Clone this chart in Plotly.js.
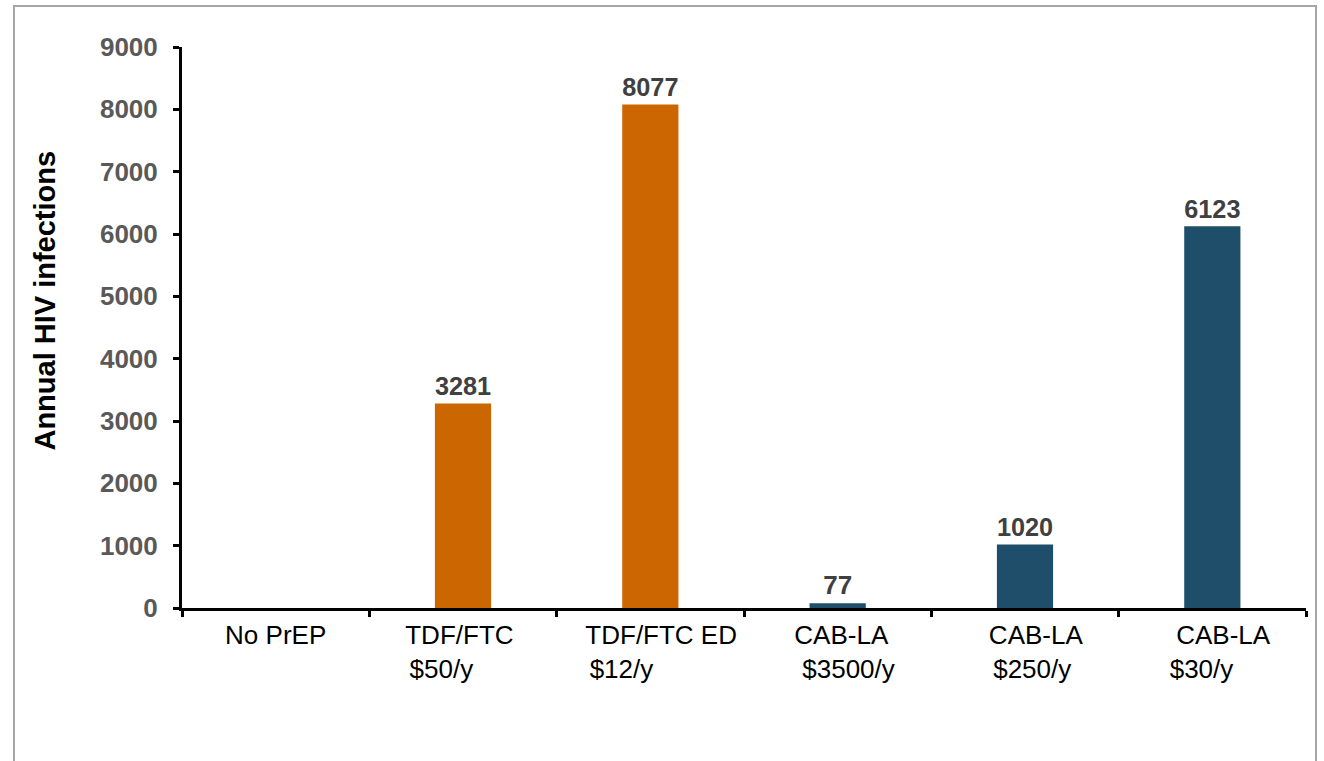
<!DOCTYPE html>
<html>
<head>
<meta charset="utf-8">
<script src="https://cdn.plot.ly/plotly-3.0.1.min.js"></script>
<style>
  html, body { margin: 0; padding: 0; background: #fff; }
  #chart { position: absolute; left: 0; top: 0; width: 1324px; height: 761px; }
  #frame { position: absolute; left: 13px; top: 5px; width: 1300px; height: 800px;
           border: 2px solid #a6a6a6; pointer-events: none; }
</style>
</head>
<body>
<div id="chart"></div>
<div id="frame"></div>
<script>
// ---- data ----
const categories = ['No PrEP', 'TDF/FTC $50/y', 'TDF/FTC ED $12/y', 'CAB-LA $3500/y', 'CAB-LA $250/y', 'CAB-LA $30/y'];
const labelLine1 = ['No PrEP', 'TDF/FTC', 'TDF/FTC ED', 'CAB-LA', 'CAB-LA', 'CAB-LA'];
const labelLine2 = ['', '$50/y', '$12/y', '$3500/y', '$250/y', '$30/y'];
const infections = [null, 3281, 8077, 77, 1020, 6123];
const yTickValues = [0, 1000, 2000, 3000, 4000, 5000, 6000, 7000, 8000, 9000];

// ---- style ----
const ORANGE = '#CC6600';
const BLUE = '#1F4E6B';
// label nudges (in non-breaking spaces; positive = lead, negative = trail)
const nudge1 = [0, -1, 3, 1, 3, 3];
const nudge2 = [0, -6, -8, 3, 2, -3];
const NB = '\u00a0';
function pad(s, n) {
  if (!s) return s;
  return n >= 0 ? NB.repeat(n) + s : s + NB.repeat(-n);
}
const tickText = labelLine1.map((l1, i) => {
  const a = pad(l1, nudge1[i]);
  const b = pad(labelLine2[i], nudge2[i]);
  return b ? a + '<br>' + b : a;
});
const barColors = labelLine1.map(l => l.startsWith('TDF') ? ORANGE : BLUE);
const FONT = 'Liberation Sans, Arial, sans-serif';

const trace = {
  type: 'bar',
  x: categories,
  y: infections,
  width: 0.3,
  marker: { color: barColors, line: { width: 0 } },
  text: infections.map(v => v == null ? '' : String(v)),
  textposition: 'outside',
  cliponaxis: false,
  textfont: { family: FONT, size: 26, color: '#404040', weight: 'bold' },
  hoverinfo: 'x+y'
};

const layout = {
  width: 1324,
  height: 761,
  margin: { l: 182, r: 18, t: 47, b: 153 },
  paper_bgcolor: 'rgba(0,0,0,0)',
  plot_bgcolor: 'rgba(0,0,0,0)',
  showlegend: false,
  font: { family: FONT },
  xaxis: {
    type: 'category',
    tickvals: categories,
    ticktext: tickText,
    tickson: 'boundaries',
    ticks: 'outside',
    ticklen: 6,
    tickwidth: 3,
    tickcolor: '#000',
    showline: true,
    linecolor: '#000',
    linewidth: 3,
    showgrid: false,
    zeroline: false,
    tickfont: { family: FONT, size: 26, color: '#000' },
    ticklabelstandoff: 2
  },
  yaxis: {
    range: [0, 9000],
    tickvals: yTickValues,
    ticks: 'outside',
    ticklen: 6,
    tickwidth: 3,
    tickcolor: '#000',
    showline: true,
    linecolor: '#000',
    linewidth: 3,
    showgrid: false,
    zeroline: false,
    tickfont: { family: FONT, size: 26, color: '#595959', weight: 'bold' },
    ticklabelstandoff: 10
  },
  annotations: [{
    text: 'Annual HIV infections',
    xref: 'paper', yref: 'paper',
    x: -0.1219, y: 0.548,
    xanchor: 'center', yanchor: 'middle',
    textangle: -90,
    showarrow: false,
    font: { family: FONT, size: 29, color: '#000', weight: 'bold' }
  }]
};

Plotly.newPlot('chart', [trace], layout, { displayModeBar: false, staticPlot: true });
</script>
</body>
</html>
